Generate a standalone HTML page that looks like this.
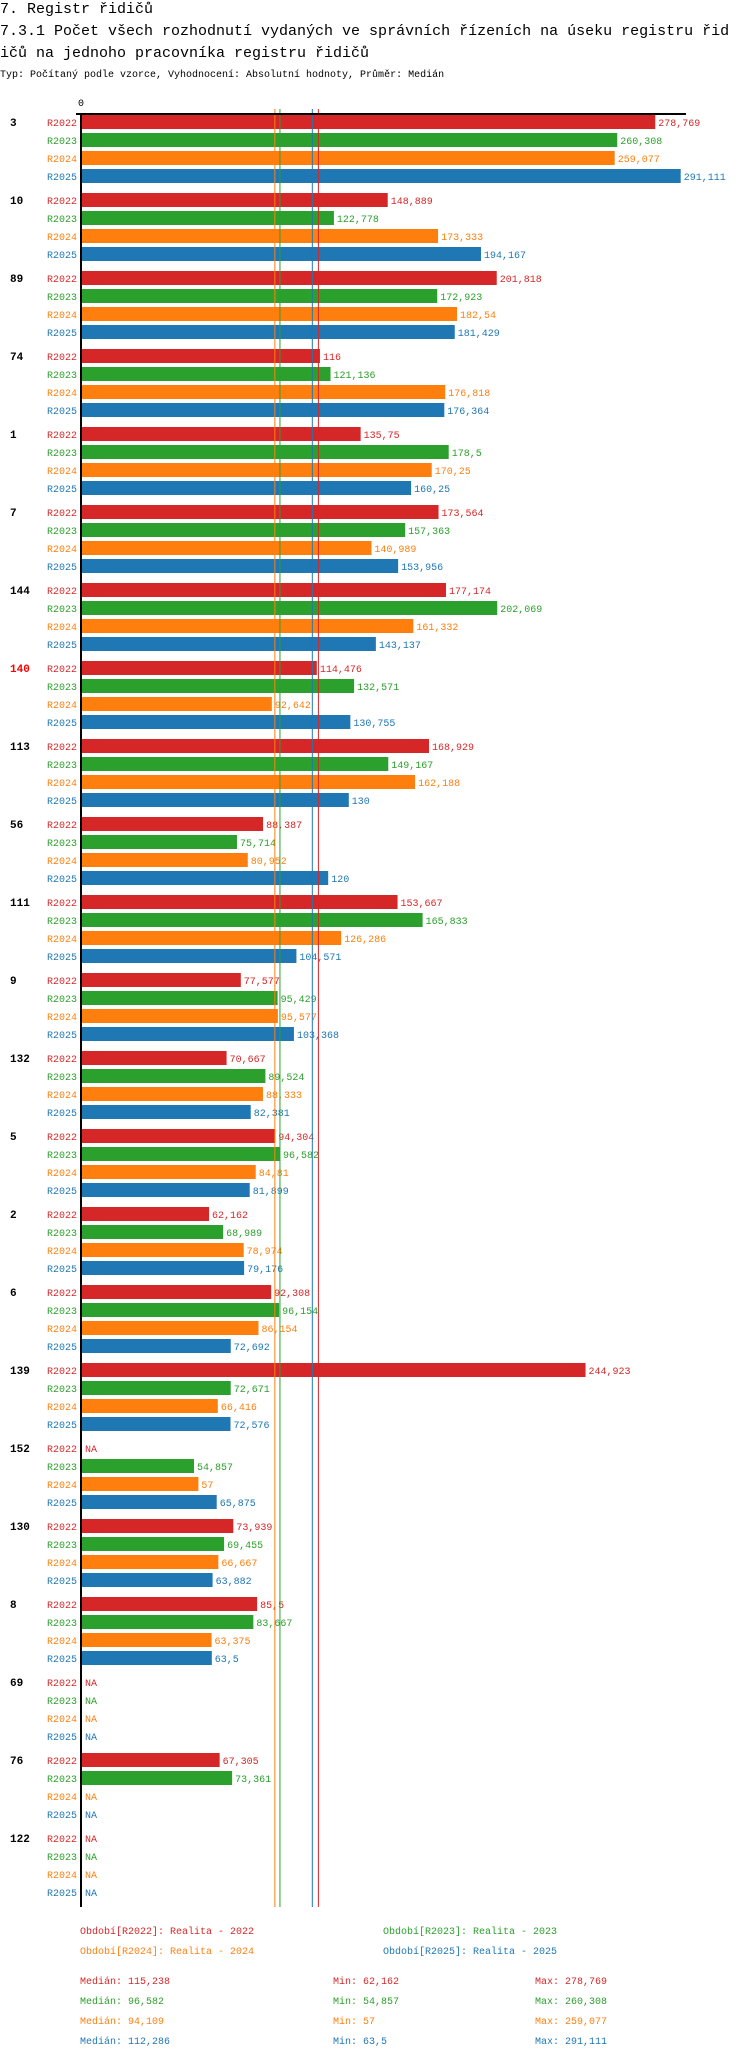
<!DOCTYPE html>
<html><head><meta charset="utf-8"><style>
body{margin:0;background:#fff;width:750px;height:2058px;overflow:hidden}
svg text{font-family:"Liberation Mono","DejaVu Sans Mono",monospace}
</style></head><body>
<svg id="chart" width="750" height="2058" xmlns="http://www.w3.org/2000/svg">
<text x="0" y="13" font-size="15">7. Registr řidičů</text>
<text x="0" y="35" font-size="15">7.3.1 Počet všech rozhodnutí vydaných ve správních řízeních na úseku registru řid</text>
<text x="0" y="57" font-size="15">ičů na jednoho pracovníka registru řidičů</text>
<text x="0" y="77" font-size="10">Typ: Počítaný podle vzorce, Vyhodnocení: Absolutní hodnoty, Průměr: Medián</text>
<g id="marks"></g>
</svg>
<script>
const categories=["3","10","89","74","1","7","144","140","113","56","111","9","132","5","2","6","139","152","130","8","69","76","122"];
const seriesNames=["R2022","R2023","R2024","R2025"];
const r2022=[278.769,148.889,201.818,116,135.75,173.564,177.174,114.476,168.929,88.387,153.667,77.577,70.667,94.304,62.162,92.308,244.923,null,73.939,85.5,null,67.305,null];
const r2023=[260.308,122.778,172.923,121.136,178.5,157.363,202.069,132.571,149.167,75.714,165.833,95.429,89.524,96.582,68.989,96.154,72.671,54.857,69.455,83.667,null,73.361,null];
const r2024=[259.077,173.333,182.54,176.818,170.25,140.989,161.332,92.642,162.188,80.952,126.286,95.577,88.333,84.81,78.974,86.154,66.416,57,66.667,63.375,null,null,null];
const r2025=[291.111,194.167,181.429,176.364,160.25,153.956,143.137,130.755,130,120,104.571,103.368,82.381,81.899,79.176,72.692,72.576,65.875,63.882,63.5,null,null,null];
const medians=[115.238,96.582,94.109,112.286];
const mins=["62,162","54,857","57","63,5"];
const maxs=["278,769","260,308","259,077","291,111"];
const highlight="140";
const colors=["#d62728","#2ca02c","#ff7f0e","#1f77b4"];
const series=[r2022,r2023,r2024,r2025];
const NS="http://www.w3.org/2000/svg";
const g=document.getElementById('marks');
const X0=81,K=2.06,Y0=115,GP=78,BP=18,BH=14;
const xs=v=>X0+v*K;
function mk(t,a){const e=document.createElementNS(NS,t);for(const k in a)e.setAttribute(k,a[k]);g.appendChild(e);return e;}
const fmt=v=>String(v).replace('.',',');
const yEnd=Y0+categories.length*GP-2;
categories.forEach((c,ci)=>{
  const gy=Y0+ci*GP;
  const gl=mk('text',{x:10,y:gy+11,'font-size':11,'font-weight':'bold',fill:c===highlight?'#ff0000':'#000'});
  gl.textContent=c;
  
  
  series.forEach((s,si)=>{
    const y=gy+si*BP;
    const lab=mk('text',{x:77,y:y+11,'font-size':10,'text-anchor':'end',fill:colors[si]});
    lab.textContent=seriesNames[si];
    
    
    const v=s[ci];
    if(v!==null){
      const r=mk('rect',{x:X0+1,y:y,width:xs(v)-X0-1,height:BH,fill:colors[si]});
      
      
    }
    const t=mk('text',{x:v===null?X0+4:xs(v)+3,y:y+11,'font-size':10,fill:colors[si]});
    t.textContent=v===null?'NA':fmt(v);
    
    
  });
});
medians.forEach((m,i)=>{
  const l=mk('line',{x1:xs(m),x2:xs(m),y1:109,y2:yEnd,stroke:colors[i],'stroke-width':1});
  
  
});
const ax=mk('line',{x1:81,x2:81,y1:113,y2:yEnd,stroke:'#000','stroke-width':2});


const tx=mk('line',{x1:76,x2:686,y1:114,y2:114,stroke:'#000','stroke-width':2});


const z=mk('text',{x:81,y:106,'font-size':10,'text-anchor':'middle'});
z.textContent='0';


const legPos=[[80,1934],[383,1934],[80,1954],[383,1954]];
seriesNames.forEach((n,i)=>{
  const t=mk('text',{x:legPos[i][0],y:legPos[i][1],'font-size':10,fill:colors[i]});
  t.textContent='Období['+n+']: Realita - '+n.slice(1);
  
  
  const y=1984+i*20;
  const a=mk('text',{x:80,y:y,'font-size':10,fill:colors[i]});a.textContent='Medián: '+fmt(medians[i]);
  
  
  const b=mk('text',{x:333,y:y,'font-size':10,fill:colors[i]});b.textContent='Min: '+mins[i];
  
  
  const c=mk('text',{x:535,y:y,'font-size':10,fill:colors[i]});c.textContent='Max: '+maxs[i];
  
  
});
</script>
</body></html>
